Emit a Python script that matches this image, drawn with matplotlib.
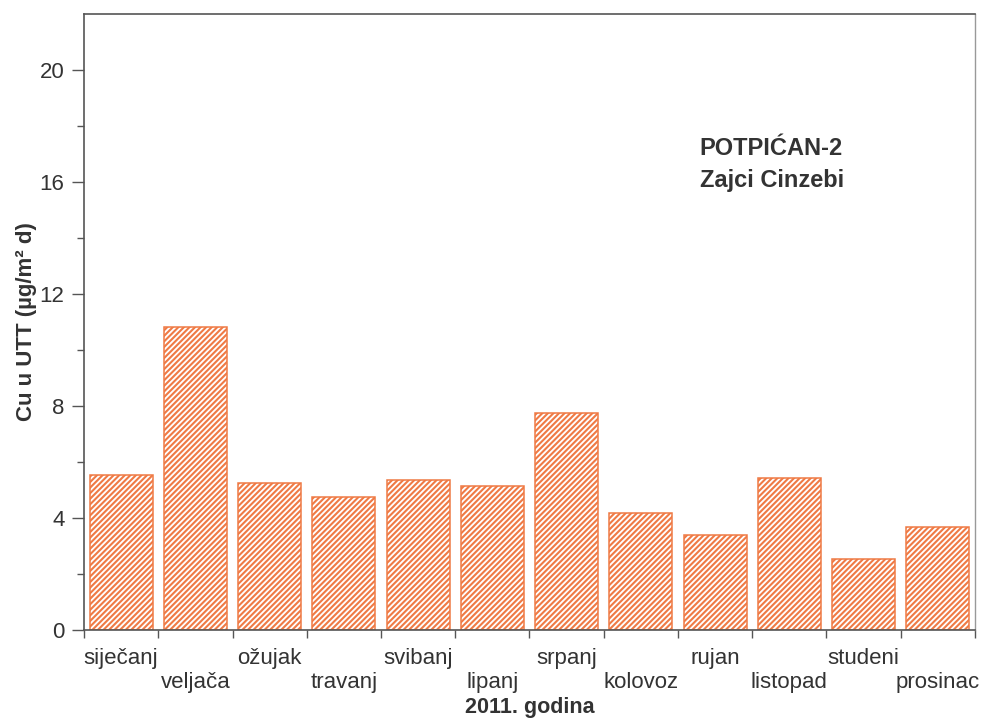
import matplotlib.pyplot as plt
import numpy as np

plt.rcParams["font.family"] = ["Liberation Sans", "DejaVu Sans"]
plt.rcParams["hatch.linewidth"] = 1.5

months = ["siječanj", "veljača", "ožujak", "travanj", "svibanj", "lipanj",
          "srpanj", "kolovoz", "rujan", "listopad", "studeni", "prosinac"]
cu_values = [5.55, 10.81, 5.24, 4.74, 5.37, 5.13, 7.74, 4.17, 3.39, 5.44, 2.54, 3.69]
station_lines = ["POTPIĆAN-2", "Zajci Cinzebi"]

bar_color = "#ef7a45"
text_color = "#333333"

fig = plt.figure(figsize=(9.85, 7.19), dpi=100)
ax = fig.add_axes([0.0853, 0.1238, 0.9045, 0.8567])

x = np.arange(len(months))
ax.bar(x, cu_values, width=0.85, facecolor="white", edgecolor=bar_color,
       hatch="//////", linewidth=1.1)

ax.set_xlim(-0.5, len(months) - 0.5)
ax.set_ylim(0, 22)

# month names alternate between two rows, tick marks sit on the bar boundaries
labels = [m if i % 2 == 0 else "\n" + m for i, m in enumerate(months)]
ax.set_xticks(x)
ax.set_xticklabels(labels, fontsize=16, color=text_color, linespacing=1.2)
ax.tick_params(axis="x", which="major", length=0, pad=13)
ax.set_xticks(np.arange(-0.5, len(months), 1.0), minor=True)
ax.tick_params(axis="x", which="minor", length=6, width=1, color="#555555", direction="out")

ax.set_yticks(np.arange(0, 21, 4))
ax.set_yticks(np.arange(2, 22, 4), minor=True)
ax.tick_params(axis="y", which="major", length=9, width=1, color="#555555",
               labelsize=16, labelcolor=text_color, pad=5)
ax.tick_params(axis="y", which="minor", length=5, width=1, color="#555555")

for side in ["left", "bottom", "top"]:
    ax.spines[side].set_color("#555555")
    ax.spines[side].set_linewidth(1.2)
ax.spines["right"].set_color("#999999")
ax.spines["right"].set_linewidth(1.0)

ax.set_ylabel("Cu u UTT (µg/m² d)", fontsize=16, fontweight="bold",
              color=text_color, labelpad=2)
ax.set_xlabel("2011. godina", fontsize=15.5, fontweight="bold",
              color=text_color, labelpad=3)

ax.text(0.691, 0.80, "\n".join(station_lines), transform=ax.transAxes,
        fontsize=17, fontweight="bold", color=text_color,
        ha="left", va="top", linespacing=1.5)

fig.savefig("out.png", dpi=100)
